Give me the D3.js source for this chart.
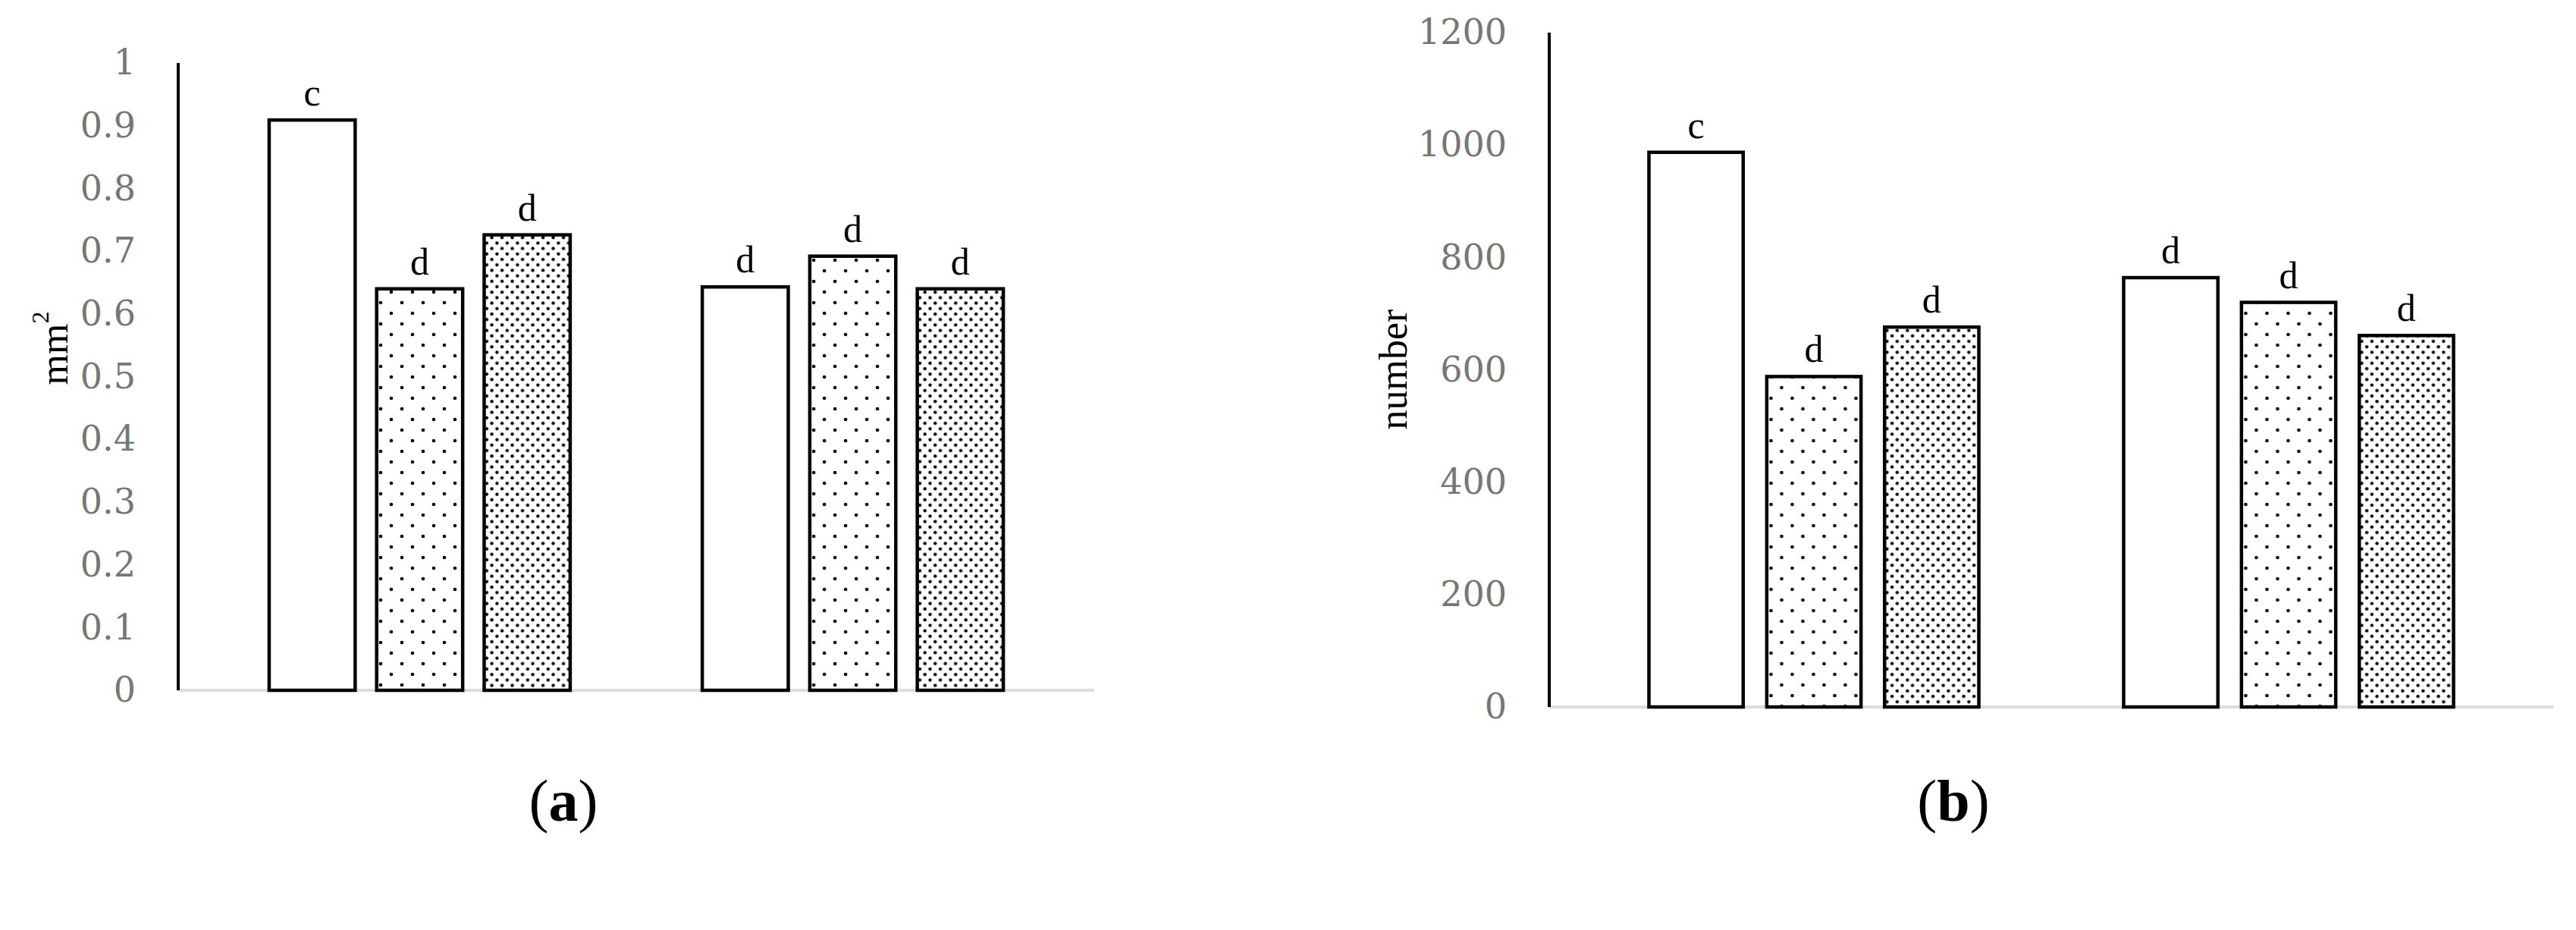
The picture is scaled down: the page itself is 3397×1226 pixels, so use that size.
<!DOCTYPE html>
<meta charset="utf-8"/>
<title>Leaf area and number</title>
<style>
    body { margin: 0; background: #fff; }
    .tick-label { font: 46px "DejaVu Serif", serif; fill: #767676; }
    .title { font: 52px "Liberation Serif", serif; fill: #000; }
    .letter { font: 50px "Liberation Serif", serif; fill: #000; }
    .caption { font: 78px "Liberation Serif", serif; fill: #000; }
    .bar { stroke: #000; stroke-width: 4.5px; }
</style>
<script src="https://cdn.jsdelivr.net/npm/d3@7"></script>
<svg id="chart" width="3397" height="1226"></svg>
<script>
"use strict";

// data
const categories = ["G1", "G2"];
const series = ["plain", "sparse", "dense"];

const areaValues = [[0.909, 0.640, 0.726], [0.643, 0.692, 0.640]];
const areaLetters = [["c", "d", "d"], ["d", "d", "d"]];
const areaTicks = [0, 0.1, 0.2, 0.3, 0.4, 0.5, 0.6, 0.7, 0.8, 0.9, 1];

const numberValues = [[987, 588, 676], [764, 720, 661]];
const numberLetters = [["c", "d", "d"], ["d", "d", "d"]];
const numberTicks = [0, 200, 400, 600, 800, 1000, 1200];

const svg = d3.select("#chart");

// fill patterns
const defs = svg.append("defs");
const sparse = defs.append("pattern")
    .attr("id", "sparse")
    .attr("patternUnits", "userSpaceOnUse")
    .attr("width", 28).attr("height", 28);
sparse.append("rect").attr("width", 28).attr("height", 28).attr("fill", "#fff");
[[7, 7], [21, 21]].forEach(function (p)
{
    sparse.append("circle").attr("cx", p[0]).attr("cy", p[1]).attr("r", 2.3).attr("fill", "#000");
});

const dense = defs.append("pattern")
    .attr("id", "dense")
    .attr("patternUnits", "userSpaceOnUse")
    .attr("width", 13.5).attr("height", 14.4);
dense.append("rect").attr("width", 13.5).attr("height", 14.4).attr("fill", "#fff");
[[3.4, 3.6], [10.1, 10.8]].forEach(function (p)
{
    dense.append("circle").attr("cx", p[0]).attr("cy", p[1]).attr("r", 2.2).attr("fill", "#000");
});

const fills = {plain: "#fff", sparse: "url(#sparse)", dense: "url(#dense)"};

function panel(opt)
{
    const g = svg.append("g");

    const y = d3.scaleLinear().domain([0, opt.max]).range([opt.bottom, opt.top]);
    const x = d3.scaleBand().domain(categories)
        .range([opt.left, opt.right])
        .paddingInner(0.305)
        .paddingOuter(0.21);
    const xs = d3.scaleBand().domain(series)
        .range([0, x.bandwidth()])
        .paddingInner(0.2);

    // x axis (light grey baseline)
    g.append("line")
        .attr("x1", opt.left).attr("x2", opt.right)
        .attr("y1", y(0)).attr("y2", y(0))
        .attr("stroke", "#dcdcdc").attr("stroke-width", 4);

    // y axis
    const yAxis = d3.axisLeft(y)
        .tickValues(opt.ticks)
        .tickSize(0)
        .tickPadding(56)
        .tickFormat(d3.format("~g"));
    const ya = g.append("g")
        .attr("transform", "translate(" + opt.left + ",0)")
        .call(yAxis);
    ya.select(".domain").attr("stroke", "#000").attr("stroke-width", 4)
        .attr("d", "M0," + y(0) + "V" + y(opt.max));
    ya.selectAll("text").attr("class", "tick-label").attr("fill", null);
    ya.attr("font-size", null).attr("font-family", null);

    const rows = function (d, i)
    {
        return series.map(function (s, j)
        {
            return {s: s, v: opt.values[i][j], l: opt.letters[i][j]};
        });
    };

    // bars
    const grp = g.selectAll(".grp")
        .data(categories)
        .enter().append("g")
        .attr("transform", function (d) { return "translate(" + x(d) + ",0)"; });

    grp.selectAll("rect")
        .data(rows)
        .enter().append("rect")
        .attr("class", "bar")
        .attr("x", function (d) { return xs(d.s); })
        .attr("width", xs.bandwidth())
        .attr("y", function (d) { return y(d.v); })
        .attr("height", function (d) { return y(0) - y(d.v); })
        .attr("fill", function (d) { return fills[d.s]; });

    grp.selectAll("text")
        .data(rows)
        .enter().append("text")
        .attr("class", "letter")
        .attr("text-anchor", "middle")
        .attr("x", function (d) { return xs(d.s) + xs.bandwidth() / 2; })
        .attr("y", function (d) { return y(d.v) - 19; })
        .text(function (d) { return d.l; });

    // y title
    const t = g.append("text")
        .attr("class", "title")
        .attr("text-anchor", "middle")
        .attr("dominant-baseline", "central")
        .attr("transform", "translate(" + opt.titleX + "," + opt.titleY + ") rotate(-90)");
    t.append("tspan").text(opt.title);
    if (opt.sup)
    {
        t.append("tspan").attr("font-size", 32).attr("dy", -18).text(opt.sup);
    }

    // caption
    g.append("text")
        .attr("class", "caption")
        .attr("text-anchor", "middle")
        .attr("x", opt.capX).attr("y", 1082)
        .html("(<tspan font-weight='bold'>" + opt.cap + "</tspan>)");
}

panel({
    values: areaValues, letters: areaLetters, ticks: areaTicks, max: 1,
    left: 235, right: 1443, top: 83, bottom: 910,
    title: "mm", sup: "2", titleX: 71, titleY: 459,
    cap: "a", capX: 743
});

panel({
    values: numberValues, letters: numberLetters, ticks: numberTicks, max: 1200,
    left: 2043, right: 3367, top: 43, bottom: 932,
    title: "number", sup: null, titleX: 1837, titleY: 487,
    cap: "b", capX: 2576
});
</script>
